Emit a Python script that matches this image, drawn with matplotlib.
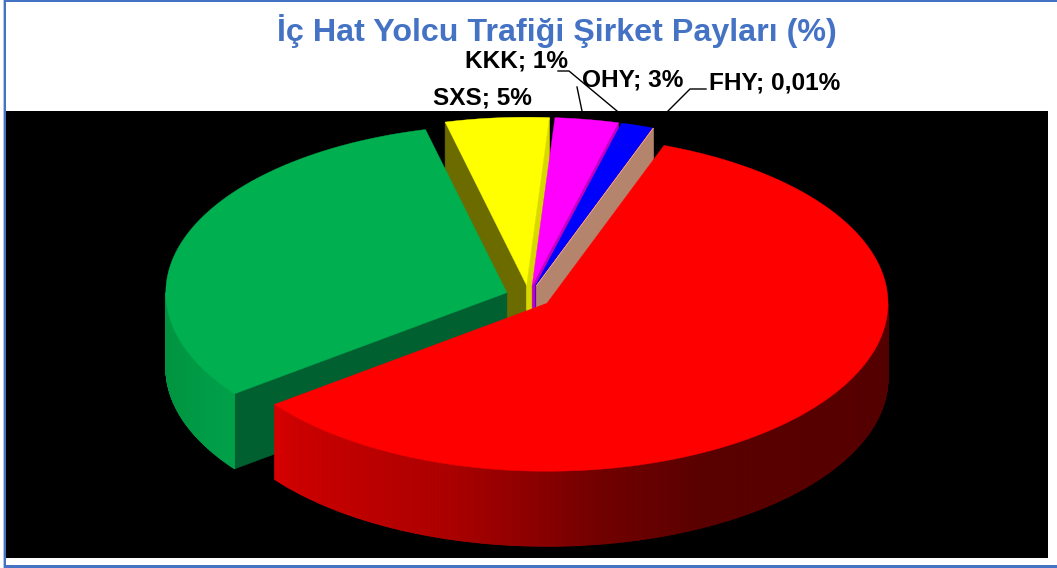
import numpy as np
import matplotlib
matplotlib.use("Agg")
import matplotlib.pyplot as plt
from matplotlib.collections import PolyCollection
from matplotlib.patches import Rectangle

title = "İç Hat Yolcu Trafiği Şirket Payları (%)"

# clockwise from the yellow slice, shares in percent
shares = [4.9, 3.0, 1.5, 0.01, 59.15, 31.45]
top_colors = ["#ffff00", "#ff00ff", "#0000ff", "#f4a582", "#ff0000", "#00b050"]
start_wall_colors = ["#6b6b00", "#6b006b", "#00006b", "#b5846c", "#6b0000", "#006030"]
end_wall_colors = ["#d8d800", "#c000c0", "#5000c0", "#b5846c", "#c00000", "#008040"]
draw_order = [0, 1, 2, 3, 5, 4]

labels = ["SXS; 5%", "KKK; 1%", "OHY; 3%", "FHY; 0,01%"]
label_x = [433, 465, 582, 709]
label_y = [98, 61, 80, 83]

# pie geometry in pixels
cx, cy = 528.5, 296.5
rx, ry = 341.0, 168.0
explode = 23.0
depth = 75.0
first_angle = -13.8


def pos(a, r=1.0):
    t = np.radians(a)
    return r * rx * np.sin(t), -r * ry * np.cos(t)


def wall_color(name, x):
    # outer wall shading, depends on screen x
    if name == 4:
        xs = [274, 300, 350, 450, 600, 700, 888]
        rs = [0.85, 0.80, 0.76, 0.68, 0.45, 0.36, 0.33]
        return (np.interp(x, xs, rs), 0, 0)
    return (0, np.interp(x, [165, 232], [0.58, 0.63]), np.interp(x, [165, 232], [0.25, 0.29]))


def draw_slice(ax, i, a0, a1):
    mid = (a0 + a1) / 2
    ox, oy = pos(mid, explode / rx)
    # keep the explosion in the same squashed space as the ellipse
    ax0, ay0 = cx + ox, cy + oy

    ang = np.linspace(a0, a1, max(int((a1 - a0) * 4), 2))
    px, py = pos(ang)
    px, py = px + ax0, py + ay0

    if np.sin(np.radians(a0)) < 0:
        ax.fill([ax0, px[0], px[0], ax0], [ay0, py[0], py[0] + depth, ay0 + depth],
                color=start_wall_colors[i], lw=0.5)
    if np.sin(np.radians(a1)) > 0:
        ax.fill([ax0, px[-1], px[-1], ax0], [ay0, py[-1], py[-1] + depth, ay0 + depth],
                color=end_wall_colors[i], lw=0.5)

    lo, hi = max(a0, 90), min(a1, 270)
    if hi > lo:
        w = np.linspace(lo, hi, int((hi - lo) * 4) + 2)
        wx, wy = pos(w)
        wx, wy = wx + ax0, wy + ay0
        polys, cols = [], []
        for k in range(len(w) - 1):
            polys.append([(wx[k], wy[k]), (wx[k + 1], wy[k + 1]),
                          (wx[k + 1], wy[k + 1] + depth), (wx[k], wy[k] + depth)])
            cols.append(wall_color(i, (wx[k] + wx[k + 1]) / 2))
        ax.add_collection(PolyCollection(polys, facecolors=cols, edgecolors=cols, linewidths=0.6))

    ax.fill(np.r_[ax0, px], np.r_[ay0, py], color=top_colors[i], lw=0.3)


fig = plt.figure(figsize=(10.57, 5.68), dpi=100)
ax = fig.add_axes([0, 0, 1, 1])
ax.set_xlim(0, 1057)
ax.set_ylim(568, 0)
ax.axis("off")

# frame and black plot area
ax.add_patch(Rectangle((3, 0), 1, 568, fc="#b4c7e7", ec="none"))
ax.add_patch(Rectangle((4, 0), 2, 568, fc="#4472c4", ec="none"))
ax.add_patch(Rectangle((4, 0), 1053, 2, fc="#4472c4", ec="none"))
ax.add_patch(Rectangle((4, 565), 1053, 3, fc="#4472c4", ec="none"))
ax.add_patch(Rectangle((6, 111), 1042, 447, fc="black", ec="none"))

edges = first_angle + np.r_[0, np.cumsum(shares)] / sum(shares) * 360
for i in draw_order:
    draw_slice(ax, i, edges[i], edges[i + 1])

ax.text(556.5, 31, title, color="#4472c4", fontsize=23.2, fontweight="bold",
        family="Liberation Sans", ha="center", va="center")

for s, x, y in zip(labels, label_x, label_y):
    ax.text(x, y, s, fontsize=17.6, fontweight="bold", family="Liberation Sans",
            color="black", ha="left", va="center")

# leader lines
ax.plot([558, 569, 617], [71, 71, 111], color="black", lw=1)
ax.plot([577, 582], [87, 111], color="black", lw=1)
ax.plot([706, 690, 668], [89, 89, 111], color="black", lw=1)

fig.savefig("out.png", dpi=100)
